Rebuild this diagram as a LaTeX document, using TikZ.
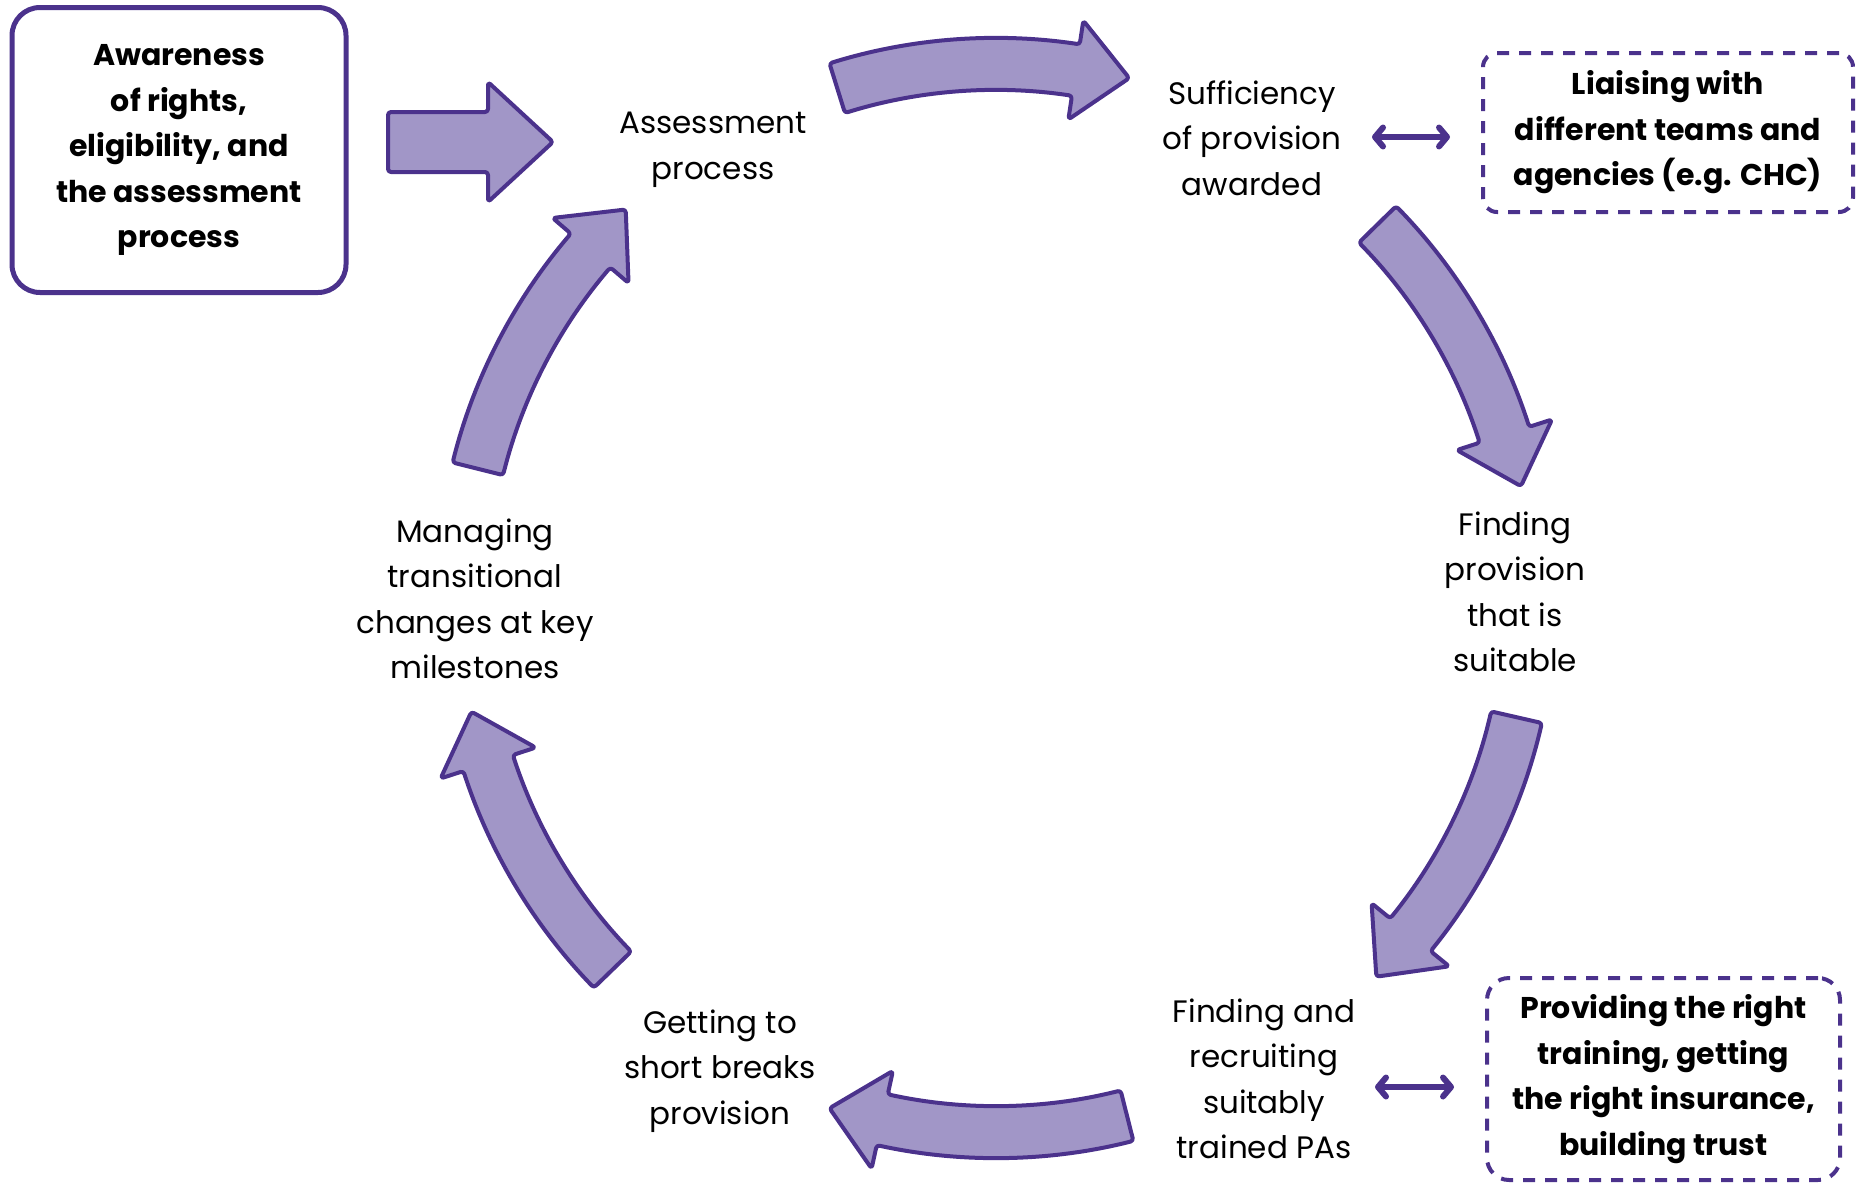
\documentclass[tikz,border=0pt]{standalone}
\usepackage{fontspec}
\setmainfont{Poppins}
\usetikzlibrary{calc,arrows.meta}

\definecolor{ringfill}{HTML}{A196C7}
\definecolor{ringline}{HTML}{4B328C}

% radii of the cycle: mid line, body edges, head barbs, head length
\def\rmid{534}
\def\rout{560}
\def\rin{508}
\def\rhout{584}
\def\rhin{484}
\def\hlen{54}

% curved block arrow on the cycle, from tail angle #1 to head angle #2
% (angles measured clockwise on the page)
\newcommand{\ringarrow}[2]{%
  \draw[blockarrow]
    ($(C)+({-#1}:\rout)$) arc[start angle={-#1}, end angle={-#2}, radius=\rout]
    -- ($(C)+({-#2}:\rhout)$)
    -- ($(C)+({-#2}:\rmid)+({-#2-90}:\hlen)$)
    -- ($(C)+({-#2}:\rhin)$)
    -- ($(C)+({-#2}:\rin)$)
    arc[start angle={-#2}, end angle={-#1}, radius=\rin]
    -- cycle;}

\tikzset{
  blockarrow/.style={fill=ringfill, draw=ringline, line width=4pt,
    rounded corners=3pt, line join=round},
  steplabel/.style={align=center, inner sep=0pt,
    font=\fontsize{31}{45.5}\selectfont},
  boxtext/.style={align=center, font=\bfseries\fontsize{30}{45.5}\selectfont},
  solidbox/.style={boxtext, draw=ringline, line width=5pt, rounded corners=28pt},
  dashbox/.style={boxtext, draw=ringline, line width=4pt,
    dash pattern=on 12pt off 10pt},
  linkarrow/.style={draw=ringline, line width=6pt, line cap=round,
    {Straight Barb[length=8pt,width=19pt,round]}-{Straight Barb[length=8pt,width=19pt,round]}}
}

\begin{document}
\begin{tikzpicture}[x=1pt,y=1pt]
\useasboundingbox (0,0) rectangle (1856,-1183);

\coordinate (C) at (996,-598);

% starting box and its arrow into the cycle
\node[solidbox, minimum width=334pt, minimum height=285pt] (aware) at (179,-150)
  {Awareness\\ of rights,\\ eligibility, and\\ the assessment\\ process};
\draw[blockarrow] (388,-112) -- (488,-112) -- (488,-82) -- (553,-142)
  -- (488,-202) -- (488,-172) -- (388,-172) -- cycle;

% stages of the cycle
\node[steplabel] (assess) at (713,-150) {Assessment\\ process};
\node[steplabel] (suff) at (1252,-138) {Sufficiency\\ of provision\\ awarded};
\node[steplabel] (findprov) at (1515,-592) {Finding\\ provision\\ that is\\ suitable};
\node[steplabel] (recruit) at (1264,-1079) {Finding and\\ recruiting\\ suitably\\ trained PAs};
\node[steplabel] (breaks) at (720,-1071) {Getting to\\ short breaks\\ provision};
\node[steplabel] (transit) at (475,-599) {Managing\\ transitional\\ changes at key\\ milestones};

% arrows between the stages
\ringarrow{194}{220.6}
\ringarrow{252.7}{278.6}
\ringarrow{315.6}{342.2}
\ringarrow{12.9}{39.1}
\ringarrow{75.8}{102.3}
\ringarrow{135.9}{162}

% side issues
\node[dashbox, minimum width=370pt, minimum height=159pt, rounded corners=14pt]
  (liaise) at (1668,-132.5) {Liaising with\\ different teams and\\ agencies (e.g. CHC)};
\node[dashbox, minimum width=353pt, minimum height=202pt, rounded corners=22pt]
  (provide) at (1663.5,-1079) {Providing the right\\ training, getting\\ the right insurance,\\ building trust};

\coordinate (l1) at (1372,-137);
\coordinate (l2) at (1375,-1087);
\draw[linkarrow, shorten >=31pt] (l1) -- (l1 -| liaise.west);
\draw[linkarrow, shorten >=31pt] (l2) -- (l2 -| provide.west);
\end{tikzpicture}
\end{document}
